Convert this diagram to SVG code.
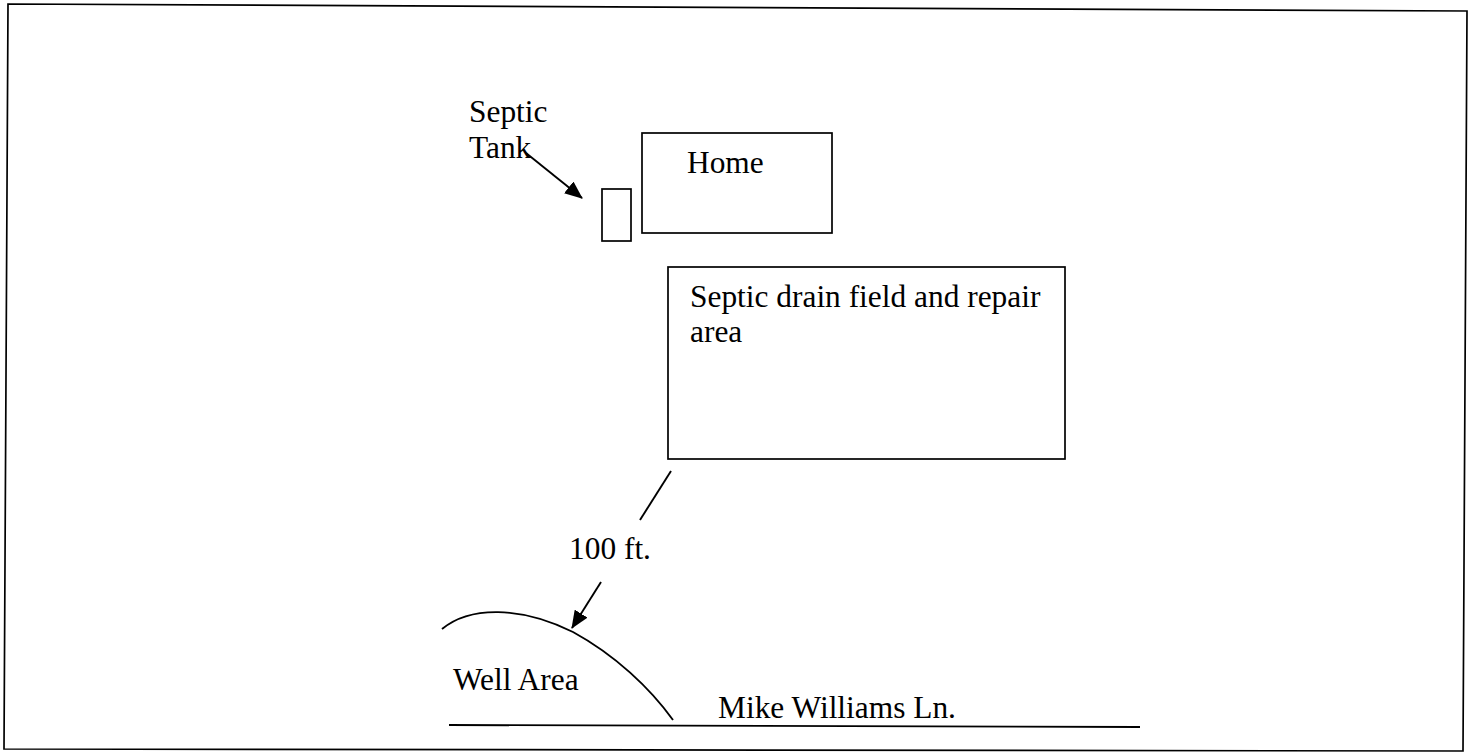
<svg xmlns="http://www.w3.org/2000/svg" width="1470" height="753" viewBox="0 0 1470 753">
  <defs>
    <style>
      .box { fill: none; stroke: #000; stroke-width: 1.7; }
      .ln { fill: none; stroke: #000; stroke-width: 1.9; }
      .t { font-family: "Liberation Serif", "Times New Roman", serif; font-size: 31.4px; fill: #000; }
    </style>
    <marker id="ah" markerWidth="18" markerHeight="15" refX="17" refY="7.5" orient="auto" markerUnits="userSpaceOnUse">
      <path d="M0,0 L18,7.5 L0,15 Z" fill="#000"/>
    </marker>
  </defs>
  <rect width="1470" height="753" fill="#fff"/>
  <g id="frame">
    <polygon class="box" points="8,4 1467,11 1463,751 4,749"/>
  </g>
  <g id="septic-tank">
    <rect class="box" x="602" y="189" width="29" height="52"/>
    <text class="t" x="469" y="122">Septic</text>
    <text class="t" x="469" y="158">Tank</text>
  </g>
  <g id="home">
    <rect class="box" x="642" y="133" width="190" height="100"/>
    <text class="t" x="687" y="173">Home</text>
  </g>
  <g id="drain-field">
    <rect class="box" x="668" y="267" width="397" height="192"/>
    <text class="t" x="690" y="307">Septic drain field and repair</text>
    <text class="t" x="690" y="342">area</text>
  </g>
  <g id="well-area">
    <path class="ln" d="M442,629 C470,606 520,606 573,632 C615,655 650,688 673,720"/>
    <text class="t" x="453" y="690">Well Area</text>
  </g>
  <g id="road">
    <line class="ln" x1="449" y1="725" x2="1140" y2="727"/>
    <text class="t" x="718" y="718">Mike Williams Ln.</text>
  </g>
  <g id="distance-label">
    <text class="t" x="569" y="559">100 ft.</text>
  </g>
  <g id="connectors">
    <line class="ln" x1="526" y1="153" x2="582" y2="198" marker-end="url(#ah)"/>
    <line class="ln" x1="671" y1="471" x2="640" y2="520"/>
    <line class="ln" x1="601" y1="582" x2="572" y2="628" marker-end="url(#ah)"/>
  </g>
</svg>
